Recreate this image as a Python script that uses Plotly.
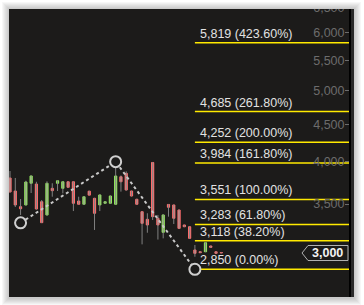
import math
import plotly.graph_objects as go

# ---------------- data ----------------
opens  = [3800, 3647, 3471, 3490, 3737, 3728, 3526, 3382, 3678, 3737,
          3678, 3755, 3755, 3534, 3498, 3645, 3564, 3490, 3509, 3509,
          3498, 3815, 3856, 3647, 3553, 3417, 3336, 3990, 3347, 3202,
          3496, 3490, 3435, 3277, 3259, 3029, 3012, 3012, 3067, 3012, 3005]
highs  = [3884, 3800, 3556, 3767, 3830, 3755, 3545, 3760, 3737, 3775,
          3760, 3760, 3760, 3582, 3590, 3650, 3570, 3610, 3530, 3595,
          4000, 3830, 3880, 3650, 3560, 3420, 3400, 3995, 3382, 3390,
          3500, 3495, 3440, 3280, 3262, 3077, 3015, 3105, 3070, 3015, 3007]
lows   = [3630, 3468, 3382, 3485, 3624, 3440, 3297, 3375, 3582, 3647,
          3620, 3685, 3424, 3495, 3490, 3598, 3226, 3424, 3505, 3505,
          3495, 3640, 3650, 3585, 3495, 3083, 3198, 3329, 3130, 3142,
          3364, 3287, 3238, 3255, 3138, 2965, 3000, 3008, 3050, 2995, 2998]
closes = [3636, 3490, 3449, 3752, 3824, 3446, 3301, 3737, 3651, 3767,
          3755, 3690, 3509, 3498, 3582, 3600, 3400, 3602, 3526, 3590,
          3824, 3755, 3659, 3590, 3498, 3294, 3277, 3364, 3277, 3382,
          3465, 3347, 3242, 3259, 3142, 2997, 3003, 3099, 3054, 2997, 3000]

pivot_idx = [2, 20, 35]
pivot_price = [3299, 4000, 2850]

fib_ratios = [0.0, 0.382, 0.618, 1.0, 1.618, 2.0, 2.618, 4.236]
fib_values = [2850, 3118, 3283, 3551, 3984, 4252, 4685, 5819]

last_price = 3000
last_label = "3,000"

ytick_vals = [3500, 4000, 4500, 5000, 5500, 6000, 6500]
ytick_text = ["3,500", "4,000", "4,500", "5,000", "5,500", "6,000", "6,500"]

# ---------------- layout constants ----------------
W, H = 364, 305
ML, MR, MT, MB = 9, 15, 0, 8
PW = W - ML - MR
PH = H - MT - MB
X_RANGE = [-0.19, 64.17]
Y_RANGE = [3.41695, 3.82324]

BG = "#1c1b1a"
FONT = "Liberation Sans, Arial, sans-serif"


def pxx(p):
    return (p - ML) / PW


def pxy(p):
    return (H - MB - p) / PH


idx = list(range(len(opens)))
up = [i for i in idx if closes[i] >= opens[i]]
dn = [i for i in idx if closes[i] < opens[i]]

fig = go.Figure()

# fib level lines (under everything else)
for v in fib_values:
    fig.add_trace(go.Scatter(x=[pivot_idx[2], X_RANGE[1] + 5], y=[v, v],
                             mode="lines",
                             line=dict(color="#ffea00", width=1.5),
                             hoverinfo="skip"))

# wicks
wx, wy = [], []
for i in idx:
    wx += [i, i, None]
    wy += [lows[i], highs[i], None]
fig.add_trace(go.Scatter(x=wx, y=wy, mode="lines",
                         line=dict(color="#808080", width=1),
                         hoverinfo="skip"))


def add_bodies(ids, fill, edge):
    fig.add_trace(go.Bar(
        x=ids,
        base=[min(opens[i], closes[i]) for i in ids],
        y=[abs(closes[i] - opens[i]) for i in ids],
        width=0.42,
        marker=dict(color=fill, line=dict(color=edge, width=1)),
        hoverinfo="skip"))


add_bodies(dn, "#ffa3a3", "#ff6a6a")
add_bodies(up, "#c8ff98", "#8fe85a")

# pivot path
fig.add_trace(go.Scatter(
    x=pivot_idx, y=pivot_price, mode="lines+markers",
    line=dict(color="#c8c8c8", width=2, dash="dot"),
    marker=dict(symbol="circle", size=11, color=BG,
                line=dict(color="#cfcfcf", width=2)),
    hoverinfo="skip"))

shapes = []
# shadow (below)
for k in range(1, 8):
    shapes.append(dict(type="rect", xref="paper", yref="paper", layer="below",
                       x0=pxx(9 - k), x1=pxx(354 + k),
                       y0=pxy(297 + k + 1), y1=pxy(9 - k),
                       line=dict(width=0), fillcolor="rgba(0,0,0,0.03)"))
# panel
shapes.append(dict(type="rect", xref="paper", yref="paper", layer="below",
                   x0=pxx(9), x1=pxx(354), y0=pxy(297), y1=pxy(9),
                   line=dict(width=0), fillcolor=BG))
shapes.append(dict(type="rect", xref="paper", yref="paper", layer="below",
                   x0=pxx(349), x1=pxx(354), y0=pxy(297), y1=pxy(9),
                   line=dict(width=0), fillcolor="#2a2a2a"))

# last price tag (shape positions on log axes are data values)
shapes.append(dict(type="path", xref="paper", yref="y", layer="above",
                   xsizemode="pixel", ysizemode="pixel",
                   xanchor=1, yanchor=last_price,
                   path="M -47 0 L -41 7.5 L -1 7.5 L -1 -7.5 L -41 -7.5 Z",
                   fillcolor=BG, line=dict(color="#b0b0b0", width=1)))

# top cover (clips the partial top tick label)
shapes.append(dict(type="rect", xref="paper", yref="paper", layer="above",
                   x0=pxx(0), x1=pxx(W), y0=pxy(9), y1=pxy(0),
                   line=dict(width=0), fillcolor="#ffffff"))
for k in range(1, 8):
    shapes.append(dict(type="rect", xref="paper", yref="paper", layer="above",
                       x0=pxx(9 - k), x1=pxx(354 + k),
                       y0=pxy(9), y1=pxy(9 - k),
                       line=dict(width=0), fillcolor="rgba(0,0,0,0.03)"))

annotations = []
for r, v in zip(fib_ratios, fib_values):
    annotations.append(dict(
        x=pivot_idx[2], y=math.log10(v), xref="x", yref="y",
        xanchor="left", yanchor="bottom", xshift=3, yshift=0,
        text=f"{v:,} ({r * 100:.2f}%)", showarrow=False,
        font=dict(family=FONT, size=12.5, color="#e2e2e2")))
annotations.append(dict(
    x=1, y=math.log10(last_price), xref="paper", yref="y",
    xanchor="right", yanchor="middle", xshift=-4,
    text=f"<b>{last_label}</b>", showarrow=False,
    font=dict(family=FONT, size=12.5, color="#f2f2f2")))

fig.update_layout(
    width=W, height=H,
    margin=dict(l=ML, r=MR, t=MT, b=MB, pad=0),
    paper_bgcolor="#ffffff", plot_bgcolor="rgba(0,0,0,0)",
    showlegend=False, barmode="overlay",
    xaxis=dict(range=X_RANGE, visible=False, fixedrange=True),
    yaxis=dict(type="log", range=Y_RANGE, side="right",
               tickvals=ytick_vals, ticktext=ytick_text,
               ticks="inside", ticklen=4, tickwidth=1, tickcolor="#6c6c6c",
               ticklabelposition="inside",
               tickfont=dict(family=FONT, size=12.5, color="#6c6c6c"),
               showgrid=False, zeroline=False,
               showline=True, linecolor="#000000", linewidth=2),
    shapes=shapes, annotations=annotations,
)

fig.write_html("out.html", config={"displayModeBar": False})
